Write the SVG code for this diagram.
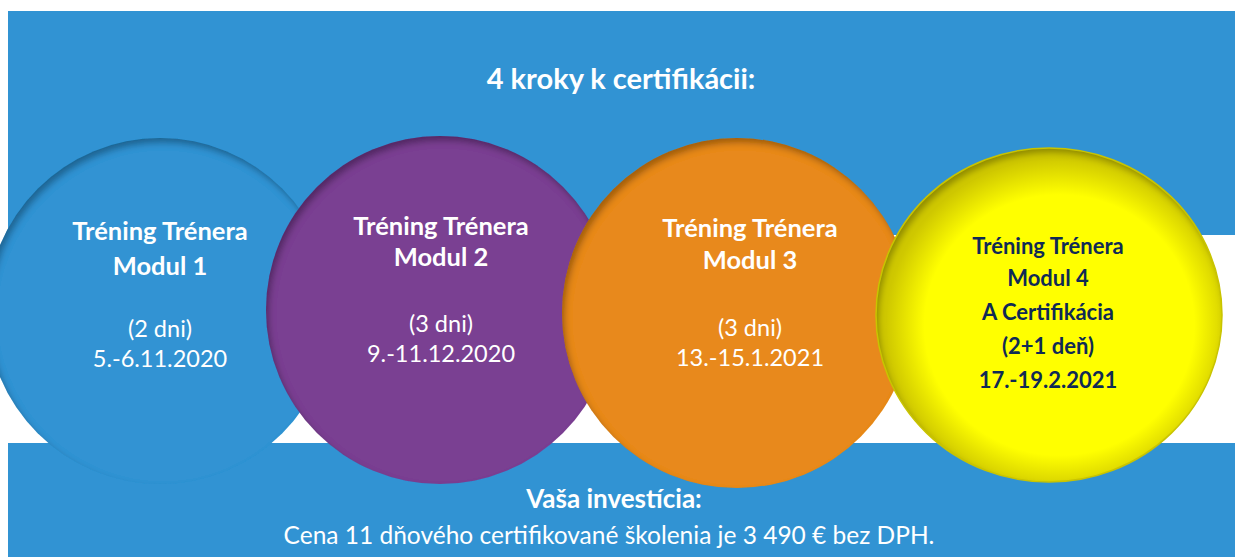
<svg xmlns="http://www.w3.org/2000/svg" width="1235" height="557" viewBox="0 0 1235 557">
<style>
.band{fill:#3193d3}
.t{font-family:Lato,"Open Sans","Liberation Sans",sans-serif;text-anchor:middle}
.w{fill:#ffffff}
.n{fill:#0f2a55}
.b{font-weight:bold}
.h{font-size:25.5px}
.r{font-size:23.5px}
.h4{font-size:22px}
</style>
<defs>
<filter id="inner" x="-10%" y="-10%" width="120%" height="120%">
<feFlood flood-color="#000" flood-opacity="0.55"/>
<feComposite in2="SourceAlpha" operator="out"/>
<feGaussianBlur stdDeviation="3"/>
<feOffset dx="3" dy="5"/>
<feComposite in2="SourceAlpha" operator="in" result="sh"/>
<feMerge><feMergeNode in="SourceGraphic"/><feMergeNode in="sh"/></feMerge>
</filter>
<radialGradient id="yel" cx="0.53" cy="0.53" r="0.5">
<stop offset="0" stop-color="#ffff00"/>
<stop offset="0.78" stop-color="#ffff00"/>
<stop offset="1" stop-color="#cfc800"/>
</radialGradient>
</defs>
<rect class="band" x="8" y="11" width="1227" height="224"/>
<rect class="band" x="8" y="443" width="1227" height="114"/>
<text class="t w b" x="621" y="89" font-size="29">4 kroky k certifikácii:</text>
<g id="modul1">
<circle cx="160" cy="311" r="173" fill="#3193d3" filter="url(#inner)"/>
<text class="t w b h" x="160" y="240">Tréning Trénera</text>
<text class="t w b h" x="160" y="275">Modul 1</text>
<text class="t w r" x="160" y="337">(2 dni)</text>
<text class="t w r" x="160" y="367">5.-6.11.2020</text>
</g>
<g id="modul2">
<circle cx="440" cy="310" r="174" fill="#7a4192" filter="url(#inner)"/>
<text class="t w b h" x="441" y="235">Tréning Trénera</text>
<text class="t w b h" x="441" y="266">Modul 2</text>
<text class="t w r" x="441" y="332">(3 dni)</text>
<text class="t w r" x="441" y="362">9.-11.12.2020</text>
</g>
<g id="modul3">
<circle cx="737" cy="313" r="175" fill="#e8891f" filter="url(#inner)"/>
<text class="t w b h" x="750" y="237">Tréning Trénera</text>
<text class="t w b h" x="750" y="269">Modul 3</text>
<text class="t w r" x="750" y="336">(3 dni)</text>
<text class="t w r" x="750" y="366">13.-15.1.2021</text>
</g>
<g id="modul4">
<ellipse cx="1049" cy="315" rx="173" ry="167" fill="url(#yel)" filter="url(#inner)"/>
<ellipse cx="1049" cy="315" rx="173" ry="167" fill="none" stroke="#c9c400" stroke-width="1.5"/>
<text class="t n b h4" x="1048" y="254">Tréning Trénera</text>
<text class="t n b h4" x="1048" y="286">Modul 4</text>
<text class="t n b h4" x="1048" y="320">A Certifikácia</text>
<text class="t n b h4" x="1048" y="354">(2+1 deň)</text>
<text class="t n b h4" x="1048" y="388">17.-19.2.2021</text>
</g>
<g id="connectors"/>
<text class="t w b" x="614" y="508" font-size="26">Vaša investícia:</text>
<text class="t w" x="609" y="544" font-size="24.5">Cena 11 dňového certifikované školenia je 3 490 € bez DPH.</text>
</svg>
